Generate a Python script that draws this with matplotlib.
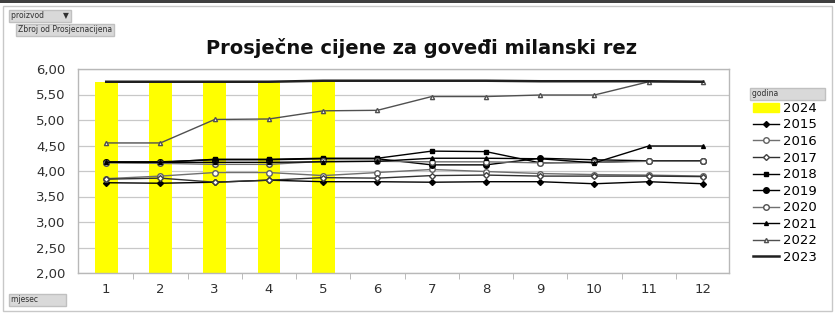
import numpy as np
import matplotlib
matplotlib.use("Agg")
import matplotlib.pyplot as plt
from matplotlib.patches import Patch, Rectangle
from matplotlib.lines import Line2D
from matplotlib.ticker import FuncFormatter

# prosjecne cijene po mjesecima, po godinama
mjeseci = list(range(1, 13))
god_2024 = [5.75, 5.75, 5.75, 5.75, 5.77]
god_2015 = [3.77, 3.76, 3.78, 3.82, 3.79, 3.79, 3.78, 3.79, 3.79, 3.75, 3.79, 3.75]
god_2016 = [3.85, 3.90, 3.97, 3.97, 3.91, 3.97, 4.03, 3.99, 3.95, 3.93, 3.92, 3.90]
god_2017 = [3.84, 3.86, 3.78, 3.82, 3.87, 3.86, 3.91, 3.92, 3.90, 3.90, 3.90, 3.89]
god_2018 = [4.17, 4.17, 4.23, 4.23, 4.25, 4.25, 4.39, 4.38, 4.16, 4.17, 4.20, 4.20]
god_2019 = [4.18, 4.18, 4.22, 4.22, 4.24, 4.24, 4.12, 4.12, 4.25, 4.22, 4.20, 4.20]
god_2020 = [4.16, 4.15, 4.13, 4.13, 4.19, 4.19, 4.18, 4.18, 4.16, 4.17, 4.19, 4.19]
god_2021 = [4.17, 4.17, 4.17, 4.17, 4.18, 4.19, 4.25, 4.25, 4.24, 4.16, 4.49, 4.49]
god_2022 = [4.55, 4.55, 5.01, 5.02, 5.18, 5.19, 5.46, 5.46, 5.49, 5.49, 5.75, 5.75]
god_2023 = [5.75, 5.75, 5.75, 5.75, 5.77, 5.77, 5.77, 5.77, 5.76, 5.76, 5.76, 5.75]

W, H = 835, 322
fig = plt.figure(figsize=(W / 100, H / 100), dpi=100)

# okvir pivot grafa
fig.patches.append(Rectangle((3 / W, 1 - 311 / H), 829 / W, 305 / H, transform=fig.transFigure,
                             fill=False, edgecolor='#c8c8c8', lw=1))
fig.patches.append(Rectangle((0, 1 - 3 / H), 1, 3 / H, transform=fig.transFigure,
                             facecolor='#404040', edgecolor='none'))

ax = fig.add_axes([78 / W, 1 - 273 / H, (729 - 78) / W, (273 - 69) / H])

ax.bar(mjeseci[:len(god_2024)], god_2024, width=0.42, color='#ffff00', zorder=2)

series = [
    (god_2015, dict(color='black', marker='D', mfc='black', mec='black', ms=3)),
    (god_2016, dict(color='#707070', marker='o', mfc='white', mec='#606060', ms=4)),
    (god_2017, dict(color='#303030', marker='D', mfc='white', mec='#404040', ms=3)),
    (god_2018, dict(color='black', marker='s', mfc='black', mec='black', ms=3.5)),
    (god_2019, dict(color='black', marker='o', mfc='black', mec='black', ms=4)),
    (god_2020, dict(color='#707070', marker='o', mfc='white', mec='#505050', ms=4)),
    (god_2021, dict(color='black', marker='^', mfc='black', mec='black', ms=2.8)),
    (god_2022, dict(color='#505050', marker='^', mfc='white', mec='#505050', ms=3)),
]
for vals, st in series:
    ax.plot(mjeseci, vals, lw=1, zorder=3, **st)
ax.plot(mjeseci, god_2023, color='#202020', lw=1.8, zorder=3)

ax.set_xlim(0.48, 12.48)
ax.set_ylim(2, 6)
ax.set_yticks(np.arange(2, 6.01, 0.5))
ax.yaxis.set_major_formatter(FuncFormatter(lambda v, p: f"{v:.2f}".replace('.', ',')))
ax.set_xticks(mjeseci)
ax.set_xticks(np.arange(1.5, 12.5, 1), minor=True)
ax.tick_params(axis='x', which='major', length=0, pad=7, labelsize=9.5, colors='#303030')
ax.tick_params(axis='x', which='minor', length=4, color='#b0b0b0')
ax.tick_params(axis='y', length=0, pad=9, labelsize=9.5, colors='#303030')
ax.grid(axis='y', color='#c8c8c8', lw=0.9, zorder=0)
ax.set_axisbelow(True)
for s in ax.spines.values():
    s.set_color('#b8b8b8')
    s.set_linewidth(1)

fig.text(421 / W, 1 - 48 / H, 'Prosječne cijene za goveđi milanski rez', ha='center', va='center',
         fontsize=14, fontweight='bold', color='#101010')

# gumbi polja zaokretne tablice
btn = dict(facecolor='#d9d9d9', edgecolor='#c0c0c0', boxstyle='square,pad=0.25')
fig.text(11 / W, 1 - 16 / H, 'proizvod        ▼', fontsize=5.5, color='#303030', va='center', bbox=btn)
fig.text(18 / W, 1 - 30 / H, 'Zbroj od Prosjecnacijena', fontsize=5.5, color='#303030', va='center', bbox=btn)
fig.text(11 / W, 1 - 300 / H, 'mjesec           ', fontsize=5.5, color='#303030', va='center', bbox=btn)
fig.text(752 / W, 1 - 94 / H, 'godina                   ', fontsize=5.5, color='#303030', va='center', bbox=btn)

handles = [Patch(facecolor='#ffff00', edgecolor='#ffff00', label='2024')]
labels = ['2015', '2016', '2017', '2018', '2019', '2020', '2021', '2022']
for lab, (vals, st) in zip(labels, series):
    handles.append(Line2D([0], [0], lw=1, label=lab, **st))
handles.append(Line2D([0], [0], color='#202020', lw=1.8, label='2023'))

fig.legend(handles=handles, loc='upper left', bbox_to_anchor=(745 / W, 1 - 94 / H),
           frameon=False, fontsize=9.5, handlelength=2.0, handletextpad=0.3,
           labelspacing=0.27, borderpad=0.1)

fig.savefig('out.png', dpi=100)
